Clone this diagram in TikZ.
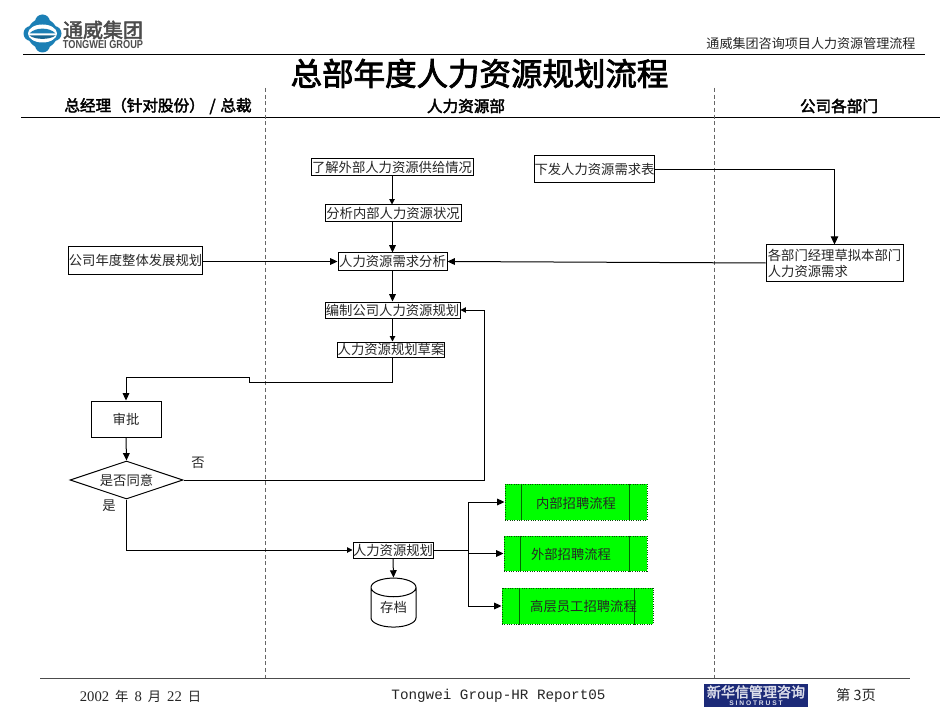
\documentclass[tikz,border=0pt]{standalone}
\usepackage{fontspec}
\setmainfont{Noto Sans CJK SC}
\newfontfamily\hei[FakeBold=2.5]{Noto Sans CJK SC}
\newfontfamily\latinmono{Liberation Mono}
\newfontfamily\latinsans{Liberation Sans}
\newfontfamily\latinserif{Liberation Serif}
\usetikzlibrary{arrows.meta,shapes.geometric,calc}
\def\px{0.75pt}
\definecolor{inkgrey}{HTML}{262626}
\definecolor{logoblue}{HTML}{1B7FB5}
\definecolor{navy}{HTML}{1C2A78}
\tikzset{
  px/.style={x=0.75pt,y=-0.75pt},
  flow/.style={draw=black,line width=0.75pt,fill=white,inner sep=0pt,font=\fontsize{10}{12}\selectfont,text=inkgrey},
  greenbox/.style={draw=black!70!green,densely dotted,line width=0.75pt,fill=green,inner sep=0pt},
  conn/.style={draw=black,line width=0.75pt},
  arr/.style={conn,-{Triangle[length=5.5pt,width=5pt]}},
  thinarr/.style={conn,-{Triangle[length=4pt,width=4pt]}},
  rulea/.style={draw=black,line width=0.75pt},
  lane/.style={draw=black!60,line width=0.5pt,densely dashed},
  head/.style={font=\fontsize{11.7}{14}\hei\selectfont,inner sep=0pt},
  note/.style={font=\fontsize{10}{12}\selectfont,inner sep=0pt,text=inkgrey},
}
\begin{document}
\begin{tikzpicture}[px]
\fill[white] (0,0) rectangle (950,713);
\useasboundingbox (0,0) rectangle (950,713);

% logo
\fill[logoblue] (42.5,33.5) circle[radius=15];
\fill[logoblue] (31,33.5) circle[radius=7.5] (54,33.5) circle[radius=7.5] (42.5,22) circle[radius=7.5] (42.5,45) circle[radius=7.5];
\fill[white] (42.5,33.5) ellipse[x radius=14.5,y radius=9];
\fill[logoblue] (29.5,33.5) .. controls (35,27) and (50,27) .. (55.5,33.5) -- cycle;
\fill[logoblue!80!black] (29.5,35.5) .. controls (35,40) and (50,40) .. (55.5,35.5) -- cycle;
\node[inner sep=0pt,font=\fontsize{15}{16}\hei\selectfont,text=black!70] (logotext) at (103,30) {通威集团};
\node[inner sep=0pt,font=\fontsize{6.9}{8}\bfseries\latinsans\selectfont,text=black!70] (logoen) at (103,44.5) {\scalebox{1}[1.25]{TONGWEI GROUP}};

% header
\node[inner sep=0pt,font=\fontsize{9.8}{12}\selectfont,text=inkgrey] (project) at (811,44) {通威集团咨询项目人力资源管理流程};
\draw[rulea] (23,55) -- (925,55);
\node[inner sep=0pt,font=\fontsize{23.6}{28}\hei\selectfont] (title) at (479.5,73.5) {总部年度人力资源规划流程};
\node[head] (h1) at (158,106) {总经理（针对股份）\makebox[1em]{/}总裁};
\node[head] (h2) at (466,106) {人力资源部};
\node[head] (h3) at (839,106) {公司各部门};
\draw[rulea] (21,117.5) -- (940,117.5);
\draw[lane] (265,88) -- (265,678);
\draw[lane] (714.5,88) -- (714.5,678);

% process boxes
\node[flow,minimum width=162*\px,minimum height=17*\px] (a) at (392,167.5) {了解外部人力资源供给情况};
\node[flow,minimum width=136*\px,minimum height=17*\px] (b) at (393,213.5) {分析内部人力资源状况};
\node[flow,minimum width=109*\px,minimum height=17*\px] (c) at (392.5,261.5) {人力资源需求分析};
\node[flow,minimum width=135*\px,minimum height=16*\px] (d) at (392.5,310) {编制公司人力资源规划};
\node[flow,minimum width=106*\px,minimum height=15*\px] (e) at (391,349.5) {人力资源规划草案};
\node[flow,minimum width=119*\px,minimum height=27*\px] (f) at (594.5,169.5) {\raisebox{-3.4pt}[0pt][0pt]{下发人力资源需求表}};
\node[flow,minimum width=131*\px,minimum height=27*\px] (g) at (135.5,260.5) {\raisebox{-4pt}[0pt][0pt]{公司年度整体发展规划}};
\node[flow,minimum width=137*\px,minimum height=36*\px,align=left] (h) at (834.5,263) {\raisebox{-1pt}{各部门经理草拟本部门}\\\raisebox{-1pt}{人力资源需求}};
\node[flow,minimum width=70*\px,minimum height=36*\px] (i) at (126,419) {审批};
\node[flow,shape=diamond,aspect=3,minimum width=113*\px,minimum height=38*\px] (j) at (126.5,480) {是否同意};
\node[flow,minimum width=80*\px,minimum height=16*\px] (k) at (393,550) {人力资源规划};
\node[flow,shape=cylinder,shape border rotate=90,aspect=0.7,minimum width=45*\px,minimum height=49*\px] (l) at (393.5,607.5) {存档};

% green sub-process boxes
\node[greenbox,minimum width=142*\px,minimum height=36*\px] (m) at (576,502) {};
\node[greenbox,minimum width=143*\px,minimum height=35*\px] (n) at (575.5,553.5) {};
\node[greenbox,minimum width=151*\px,minimum height=36*\px] (o) at (577.5,606) {};
\foreach \bx/\lft/\rgt in {m/17/125,n/17/126,o/18/133}{
  \draw[black!60!green,line width=0.6pt] ($(\bx.north west)+(\lft,0)$) -- ($(\bx.south west)+(\lft,0)$);
  \draw[black!60!green,line width=0.6pt] ($(\bx.north west)+(\rgt,0)$) -- ($(\bx.south west)+(\rgt,0)$);
}
\node[note] (mt) at (576,503) {内部招聘流程};
\node[note] (nt) at (571,554) {外部招聘流程};
\node[note] (ot) at (583.5,606) {高层员工招聘流程};

% connectors
\draw[thinarr] (a.south) -- (b.north -| a.south);
\draw[arr] (b.south -| c.north) -- (c.north);
\draw[arr] (c.south) -- (d.north);
\draw[thinarr] (d.south) -- (e.north -| d.south);
\draw[arr] (g.east |- c.west) -- (c.west);
\draw[arr] (h.west) -- (c.east);
\draw[conn,-{Triangle[length=6pt,width=5.5pt]}] (f.east) -- (h.north |- f.east) -- (h.north);
\coordinate (e1) at (392,382);
\coordinate (e2) at (249,382);
\coordinate (e3) at (249,377);
\draw[arr] (e.south -| e1) -- (e1) -- (e2) -- (e3) -- (e3 -| i.north) -- (i.north);
\draw[arr] (i.south) -- (j.north);
\coordinate (no) at (484,480);
\draw[thinarr] (j.east) -- (no) -- (no |- d.east) -- (d.east);
\draw[thinarr] (j.south) -- (j.south |- k.west) -- (k.west);
\draw[arr] (k.south) -- (l.top);
\coordinate (split) at (468,550);
\draw[arr] (k.east) -- (split) -- (split |- m.west) -- (m.west);
\draw[arr] (split) -- (split |- n.west) -- (n.west);
\draw[arr] (split) -- (split |- o.west) -- (o.west);

% branch labels
\node[note] (yes) at (109,506) {是};
\node[note] (nolabel) at (198,463) {否};

% footer
\draw[rulea,draw=black!70] (40,678.5) -- (910,678.5);
\node[inner sep=0pt,font=\fontsize{10}{12}\selectfont,text=inkgrey] (date) at (140.5,696) {{\fontsize{11}{12}\latinserif\selectfont 2002}\kern4.5pt 年\kern4.5pt{\fontsize{11}{12}\latinserif\selectfont 8}\kern4.5pt 月\kern4.5pt{\fontsize{11}{12}\latinserif\selectfont 22}\kern4.5pt 日};
\node[inner sep=0pt,font=\fontsize{10.7}{12}\latinmono\selectfont,text=inkgrey] (report) at (498.5,696) {Tongwei Group-HR Report05};
\node[fill=navy,minimum width=104*\px,minimum height=23*\px,inner sep=0pt] (sino) at (756,695.5) {};
\node[inner sep=0pt,font=\fontsize{10.5}{11}\hei\selectfont,text=white!85!navy] (sino1) at (756,692) {新华信管理咨询};
\node[inner sep=0pt,font=\fontsize{5}{6}\bfseries\latinsans\selectfont,text=white!85!navy] (sino2) at (756,703) {S I N O T R U S T};
\node[inner sep=0pt,font=\fontsize{10.7}{12}\selectfont,text=inkgrey] (page) at (856,695) {第 3页};
\end{tikzpicture}
\end{document}
